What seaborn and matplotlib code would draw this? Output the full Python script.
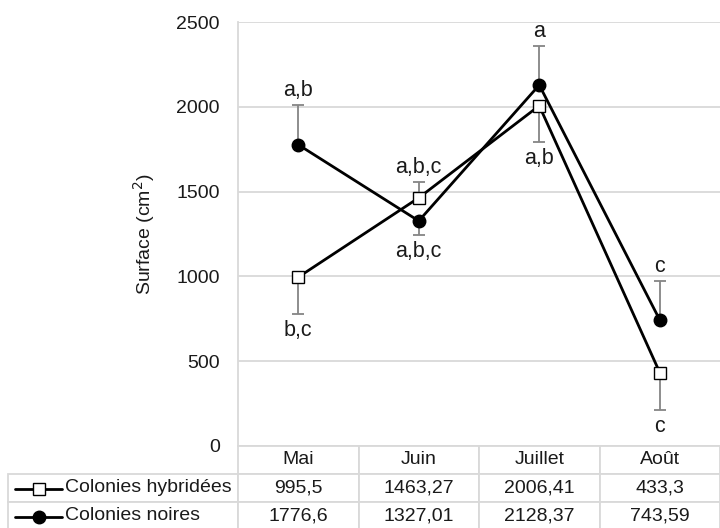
import numpy as np
import pandas as pd
import matplotlib
matplotlib.use("Agg")
import matplotlib.pyplot as plt
from matplotlib.lines import Line2D
import seaborn as sns

# Data
MONTHS = ["Mai", "Juin", "Juillet", "Août"]
HYBRID = [995.5, 1463.27, 2006.41, 433.3]
NOIRES = [1776.6, 1327.01, 2128.37, 743.59]
HYBRID_TXT = ["995,5", "1463,27", "2006,41", "433,3"]
NOIRES_TXT = ["1776,6", "1327,01", "2128,37", "743,59"]
# one-sided error bars (+1 = upward, -1 = downward)
HYBRID_ERR = [218, 94, 214, 221]
HYBRID_DIR = [-1, 1, -1, -1]
NOIRES_ERR = [233, 83, 230, 229]
NOIRES_DIR = [1, -1, 1, 1]
HYBRID_LET = ["b,c", "a,b,c", "a,b", "c"]
NOIRES_LET = ["a,b", "a,b,c", "a", "c"]

sns.set_style("white")
plt.rcParams["font.family"] = ["Liberation Sans", "DejaVu Sans"]

GRID = "#d9d9d9"
TXT = "#1a1a1a"

fig = plt.figure(figsize=(7.2, 5.28), dpi=100)
ax = fig.add_axes([238 / 720, 1 - 446 / 528, 482 / 720, 424 / 528])

pos = np.arange(len(MONTHS))


def draw_series(vals, err, dirs, letters, marker, face, z):
    lo = [e if d < 0 else 0 for e, d in zip(err, dirs)]
    hi = [e if d > 0 else 0 for e, d in zip(err, dirs)]
    ax.errorbar(pos, vals, yerr=[lo, hi], fmt="none", ecolor="#858585",
                elinewidth=1.3, capsize=4, capthick=1.3, zorder=2)
    sns.lineplot(x=pos, y=vals, ax=ax, color="black", lw=2.0, marker=marker,
                 markersize=9, markerfacecolor=face, markeredgecolor="black",
                 markeredgewidth=1.0, zorder=z)
    for x, v, e, d, t in zip(pos, vals, err, dirs, letters):
        off = 3 if d > 0 else -4
        ax.annotate(t, (x, v + d * e), xytext=(0, off), textcoords="offset points",
                    ha="center", va="bottom" if d > 0 else "top",
                    fontsize=15.5, color=TXT)


draw_series(NOIRES, NOIRES_ERR, NOIRES_DIR, NOIRES_LET, "o", "black", 3)
draw_series(HYBRID, HYBRID_ERR, HYBRID_DIR, HYBRID_LET, "s", "white", 4)

ax.set_xlim(-0.5, len(MONTHS) - 0.5)
ax.set_ylim(0, 2500)
ax.set_yticks(range(0, 2501, 500))
ax.set_xticks([])
ax.yaxis.grid(True, color=GRID, lw=1.3)
ax.set_axisbelow(True)
for s in ["top", "right", "bottom"]:
    ax.spines[s].set_visible(False)
ax.spines["left"].set_color(GRID)
ax.spines["left"].set_linewidth(1.3)
ax.tick_params(axis="y", length=0, pad=13, labelsize=14, labelcolor=TXT)
ax.set_ylabel("Surface (cm$^2$)", fontsize=14, color=TXT, labelpad=14)

# data table under the plot
cell_text = [[""] + MONTHS,
             ["Colonies hybridées"] + HYBRID_TXT,
             ["Colonies noires"] + NOIRES_TXT]
tab = ax.table(cellText=cell_text, cellLoc="center",
               bbox=[-230 / 482, -84 / 424, 712 / 482, 84 / 424])
tab.auto_set_font_size(False)
tab.set_fontsize(14)
for (r, c), cell in tab.get_celld().items():
    cell.set_width(230 if c == 0 else 120.5)
    cell.set_edgecolor(GRID)
    cell.set_linewidth(1.3)
    cell.get_text().set_color(TXT)
    if c == 0:
        cell.get_text().set_ha("left")
        cell._loc = "left"
        cell.PAD = 57 / 230
    if r == 0 and c == 0:
        cell.set_edgecolor("none")
        cell.visible_edges = ""

# legend keys inside the row-label cells
for yrow, marker, face in [(-0.101, "s", "white"), (-0.167, "o", "black")]:
    ax.add_line(Line2D([-223 / 482, -176 / 482], [yrow, yrow], transform=ax.transAxes,
                       color="black", lw=2.0, clip_on=False, zorder=5))
    ax.add_line(Line2D([-199 / 482], [yrow], transform=ax.transAxes, marker=marker,
                       markersize=9, markerfacecolor=face, markeredgecolor="black",
                       markeredgewidth=1.0, clip_on=False, zorder=6))

fig.savefig("out.png", dpi=100)
